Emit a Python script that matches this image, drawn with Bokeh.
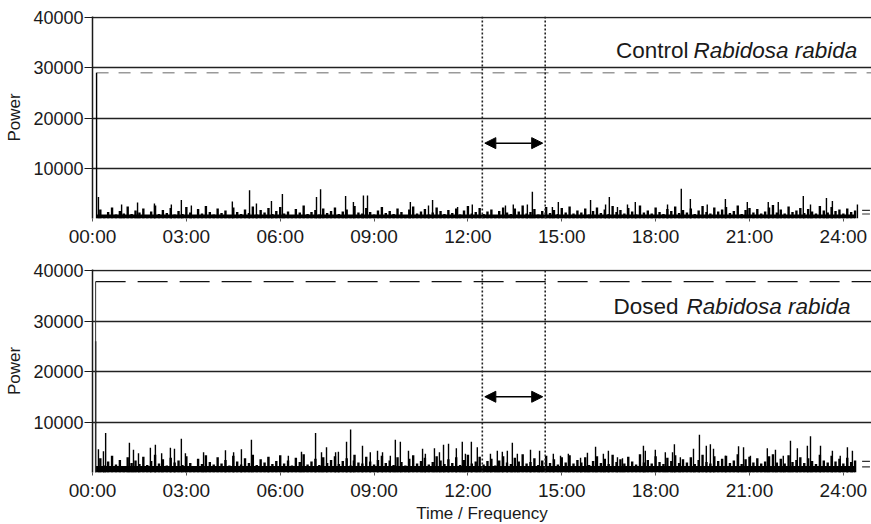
from bokeh.plotting import figure
from bokeh.models import Range1d, FixedTicker, Arrow, NormalHead, Label
from bokeh.layouts import column
from bokeh.embed import file_html
from bokeh.resources import INLINE
import numpy as np

# ---------------- data ----------------
hour_ticks = [0, 3, 6, 9, 12, 15, 18, 21, 24]
hour_labels = ["00:00", "03:00", "06:00", "09:00", "12:00", "15:00", "18:00", "21:00", "24:00"]
y_ticks = [10000, 20000, 30000, 40000]

marker_times = [12.46, 14.47]      # dotted vertical lines
arrow_level = 15000

# Control panel
ctrl_threshold = 29000
ctrl_floor = 800
ctrl_base = [
    1800, 700, 1300, 2200, 800, 1500, 1000, 2400, 900, 1600,
    1200, 2000, 700, 1400, 2600, 900, 1700, 1100, 2100, 800,
    1500, 900, 2300, 1200, 700, 1900, 1000, 2500, 1300, 800,
    2000, 1100, 1600, 700, 2200, 1300, 900, 1800, 1100, 2400,
    800, 1700, 1200, 2100, 900, 1500, 2300, 1000, 1400, 700,
    1900, 1200, 2600, 900, 1300, 1700, 800, 2000, 1100, 1500,
    2200, 900, 1400, 1800, 700, 2500, 1200, 1000, 2100, 1300,
    800, 1600, 2300, 1100, 1500, 900, 2000, 1300, 700, 1800,
    2400, 1000, 1400, 1900, 800, 1200, 2200, 1500, 900, 1700,
    1100, 2000, 800, 1600, 2500, 1000, 1300, 2100, 900, 1400,
    1800, 700, 1500, 2200, 1200, 900, 2000, 1400, 2600, 1000,
    1300, 1900, 800, 1500, 2300, 1100, 1700, 900, 2100, 1200,
    2400, 1000, 1600, 1200, 2000, 800, 1500, 2200, 1100, 1800,
    900, 2500, 1300, 1700, 1000, 2100, 1400, 800, 2600, 1200,
    1600, 1000, 2200, 1300, 900, 1900, 1500, 2400, 1100, 1700,
    1200, 2000, 900, 1600, 2500, 1300, 1000, 2200, 1400, 1800,
    2300, 1100, 1500, 2600, 900, 1700, 2100, 1200, 1900, 1000,
    1400, 2200, 2700, 1200, 1800, 1000, 2400, 1300, 1600, 2100,
    1100, 1900, 1400, 1000, 2500, 1600, 1200, 2300, 1500, 1800,
    1000, 2000, 1300, 1600,
]
ctrl_spike_t = [0.13, 0.19, 0.93, 1.44, 1.98, 2.52, 2.84, 3.16, 4.47, 5.02,
                5.24, 5.72, 6.07, 7.16, 7.29, 8.09, 8.34, 8.66, 8.79, 10.16,
                10.74, 10.87, 11.67, 12.14, 13.20, 13.45, 13.90, 14.06, 14.70, 14.89,
                15.92, 16.40, 16.52, 16.78, 17.10, 17.35, 18.38, 18.82, 19.11, 19.65,
                20.23, 20.93, 21.60, 21.92, 22.72, 22.95, 23.46, 23.65, 24.45]
ctrl_spike_v = [29000, 4300, 2800, 3200, 3000, 2800, 3700, 2600, 3400, 5600,
                3000, 3500, 4900, 4300, 5800, 4500, 3300, 4600, 4600, 3300,
                2600, 3700, 2300, 2800, 2600, 2800, 2800, 5300, 2300, 3300,
                3700, 2800, 4300, 2300, 2800, 3300, 2800, 5900, 3900, 2800,
                3900, 3300, 3300, 3300, 4500, 2800, 4100, 3500, 2800]
ctrl_marks = [1600, 900]

# Dosed panel
dosed_threshold = 37800
dosed_floor = 1300
dosed_base = [
    2800, 1400, 2200, 3300, 1600, 2500, 1300, 3000, 1900, 2400,
    1700, 3100, 1500, 2300, 3500, 1800, 2600, 1400, 2900, 2000,
    2400, 1500, 3200, 1900, 1300, 2700, 1700, 3400, 2100, 1600,
    3000, 1800, 2500, 1400, 3300, 2200, 1600, 2800, 1900, 3500,
    1500, 2600, 2000, 3100, 1700, 2300, 3400, 1800, 2400, 1400,
    2900, 2100, 3600, 1600, 2200, 2700, 1500, 3000, 1900, 2500,
    3200, 1700, 2300, 2800, 1400, 3500, 2000, 1800, 3100, 2200,
    1600, 2500, 3300, 1900, 2400, 1500, 3000, 2100, 1400, 2700,
    3400, 1800, 2300, 2900, 1600, 2100, 3200, 2400, 1700, 2600,
    1900, 3000, 1500, 2500, 3500, 1800, 2200, 3100, 1600, 2300,
    2700, 1400, 2400, 3200, 2000, 1700, 2900, 2200, 3600, 1800,
    2100, 2800, 1500, 2400, 3300, 1900, 2600, 1600, 3000, 2000,
    3400, 1800, 2500, 2000, 3000, 1500, 2300, 3200, 1900, 2700,
    1700, 3500, 2100, 2600, 1800, 3100, 2200, 1600, 3600, 2000,
    2500, 1800, 3200, 2100, 1700, 2900, 2300, 3400, 1900, 2600,
    2000, 3000, 1700, 2500, 3500, 2100, 1800, 3200, 2300, 2700,
    3300, 1900, 2400, 3600, 1700, 2600, 3100, 2000, 2800, 1800,
    2200, 3200, 3600, 2000, 2700, 1800, 3400, 2100, 2500, 3000,
    1900, 2800, 2300, 1700, 3500, 2400, 2000, 3300, 2200, 2700,
    1800, 2900, 2100, 2400,
]
dosed_spike_t = [0.10, 0.19, 0.35, 0.42, 1.18, 1.31, 1.47, 1.85, 2.01, 2.21,
                 2.49, 2.62, 2.84, 2.97, 3.55, 4.25, 4.51, 4.76, 5.08, 5.62,
                 6.26, 6.68, 7.13, 7.32, 7.48, 7.77, 7.86, 8.12, 8.25, 8.34,
                 8.63, 8.88, 9.11, 9.27, 9.52, 9.68, 9.84, 10.10, 10.55, 10.64,
                 10.93, 11.09, 11.22, 11.38, 11.63, 11.82, 11.92, 12.11, 12.30, 12.72,
                 12.94, 13.10, 13.26, 13.42, 13.58, 14.00, 14.29, 14.73, 14.96, 15.21,
                 15.60, 15.82, 16.08, 16.33, 16.49, 16.78, 16.94, 17.61, 17.67, 17.99,
                 18.31, 18.54, 18.60, 18.79, 19.21, 19.40, 19.62, 19.75, 19.85, 20.23,
                 20.65, 20.81, 21.03, 21.57, 21.83, 22.08, 22.31, 22.53, 22.85, 22.95,
                 23.27, 23.65, 23.90, 24.13, 24.29]
dosed_spike_v = [26000, 4600, 4200, 7800, 5900, 4500, 3800, 4900, 5500, 3800,
                 4900, 4700, 6700, 3800, 4000, 4400, 4000, 4600, 6500, 3000,
                 3300, 4100, 7800, 4000, 5000, 4000, 4100, 6100, 8500, 2400,
                 5300, 4000, 4300, 4000, 3300, 6500, 6100, 4300, 4700, 3700,
                 4800, 4000, 5500, 5700, 4800, 6100, 3700, 6100, 5000, 3700,
                 4300, 4100, 4300, 5900, 3700, 4500, 4300, 3700, 3300, 3700,
                 2900, 3900, 5100, 3700, 4300, 3000, 2800, 5300, 4300, 4500,
                 4000, 4000, 5600, 3000, 4700, 7500, 5300, 5600, 4700, 3300,
                 5200, 5000, 3300, 4800, 4500, 3300, 6300, 4800, 5300, 7200,
                 5300, 4300, 3300, 5000, 4300]
dosed_marks = [2200, 1100]

BASE_START = 0.25
BASE_STEP = 0.125
X_END = 24.9
Y_END = 40200
FONT = "Liberation Sans"
INK = "#1a1a1a"


def panel(base, floor, spike_t, spike_v, threshold, thr_color, thr_dash, marks, name,
          border_top, frame_h, border_bottom, show_xlabel, title_y, name_end, italic_start):
    p = figure(frame_width=779, frame_height=frame_h, output_backend="svg",
               toolbar_location=None,
               x_range=Range1d(0, X_END), y_range=Range1d(0, Y_END),
               min_border_left=92, min_border_right=0, min_border_top=border_top,
               min_border_bottom=border_bottom)
    p.outline_line_color = None
    p.background_fill_color = "white"

    # y axis
    p.yaxis.ticker = FixedTicker(ticks=y_ticks)
    p.yaxis.axis_label = "Power"
    p.yaxis.axis_label_text_font = FONT
    p.yaxis.axis_label_text_font_size = "17px"
    p.yaxis.axis_label_text_font_style = "normal"
    p.yaxis.axis_label_text_color = INK
    p.yaxis.axis_label_standoff = 6
    p.yaxis.major_label_text_font = FONT
    p.yaxis.major_label_text_font_size = "18px"
    p.yaxis.major_label_text_color = INK
    p.yaxis.major_tick_out = 8
    p.yaxis.major_tick_in = 0
    p.yaxis.major_label_standoff = 1
    p.yaxis.minor_tick_line_color = None
    p.yaxis.axis_line_color = INK
    p.yaxis.axis_line_width = 1.5
    p.yaxis.major_tick_line_color = INK

    # x axis
    p.xaxis.ticker = FixedTicker(ticks=hour_ticks)
    p.xaxis.major_label_overrides = {t: s for t, s in zip(hour_ticks, hour_labels)}
    p.xaxis.major_label_text_font = FONT
    p.xaxis.major_label_text_font_size = "19px"
    p.xaxis.major_label_text_color = INK
    p.xaxis.major_tick_out = 3
    p.xaxis.major_tick_in = 0
    p.xaxis.major_label_standoff = 4
    p.xaxis.minor_tick_line_color = None
    p.xaxis.axis_line_color = None
    p.xaxis.major_tick_line_color = "#555555"
    if show_xlabel:
        p.xaxis.axis_label = "Time / Frequency"
        p.xaxis.axis_label_text_font = FONT
        p.xaxis.axis_label_text_font_size = "17px"
        p.xaxis.axis_label_text_font_style = "normal"
        p.xaxis.axis_label_text_color = INK
        p.xaxis.axis_label_standoff = 0

    # grid
    p.xgrid.grid_line_color = None
    p.ygrid.ticker = FixedTicker(ticks=y_ticks)
    p.ygrid.grid_line_color = "#222222"
    p.ygrid.grid_line_width = 1.4

    # threshold dashed line
    p.segment(x0=[spike_t[0]], y0=[threshold], x1=[X_END], y1=[threshold],
              line_color=thr_color, line_width=1.4, line_dash=thr_dash)

    # noise band: solid floor plus dense hairs
    bt = BASE_START + BASE_STEP * np.arange(len(base))
    p.quad(left=[spike_t[0]], right=[bt[-1]], bottom=[0], top=[floor],
           fill_color="black", line_color=None)
    p.segment(x0=bt, y0=[0] * len(base), x1=bt, y1=base,
              line_color="black", line_width=2.4)

    # spikes
    p.segment(x0=spike_t, y0=[0] * len(spike_t), x1=spike_t, y1=spike_v,
              line_color="black", line_width=1.4)

    # marks at right edge
    p.segment(x0=[24.6] * len(marks), y0=marks, x1=[24.85] * len(marks), y1=marks,
              line_color="#333333", line_width=1.2)

    # dotted marker lines
    p.segment(x0=marker_times, y0=[0, 0], x1=marker_times, y1=[Y_END, Y_END],
              line_color="#222222", line_width=1.6, line_dash="2 2")

    # double arrow
    p.add_layout(Arrow(x_start=marker_times[0] + 0.08, y_start=arrow_level,
                       x_end=marker_times[1] - 0.08, y_end=arrow_level,
                       line_color="black", line_width=1.5,
                       start=NormalHead(size=11, fill_color="black", line_color="black"),
                       end=NormalHead(size=11, fill_color="black", line_color="black")))

    # panel title
    p.add_layout(Label(x=name_end, y=title_y, text=name, text_align="right",
                       text_baseline="middle", text_font=FONT,
                       text_font_size="22.5px", text_color=INK))
    p.add_layout(Label(x=italic_start, y=title_y, text="Rabidosa rabida", text_align="left",
                       text_baseline="middle", text_font=FONT, text_font_style="italic",
                       text_font_size="22.5px", text_color=INK))
    return p


top = panel(ctrl_base, ctrl_floor, ctrl_spike_t, ctrl_spike_v, ctrl_threshold, "#9a9a9a",
            "12 10", ctrl_marks, "Control", 16, 202, 40, False, 33430, 19.05, 19.21)
bottom = panel(dosed_base, dosed_floor, dosed_spike_t, dosed_spike_v, dosed_threshold,
               "#111111", "30 12", dosed_marks, "Dosed", 11, 203, 40, True, 32870, 18.73, 18.99)
# vertical start line of the dosed threshold
bottom.segment(x0=[dosed_spike_t[0]], y0=[0], x1=[dosed_spike_t[0]], y1=[dosed_threshold],
               line_color="#333333", line_width=1)

layout = column(top, bottom, spacing=0)
open("out.html", "w").write(file_html(layout, INLINE))
